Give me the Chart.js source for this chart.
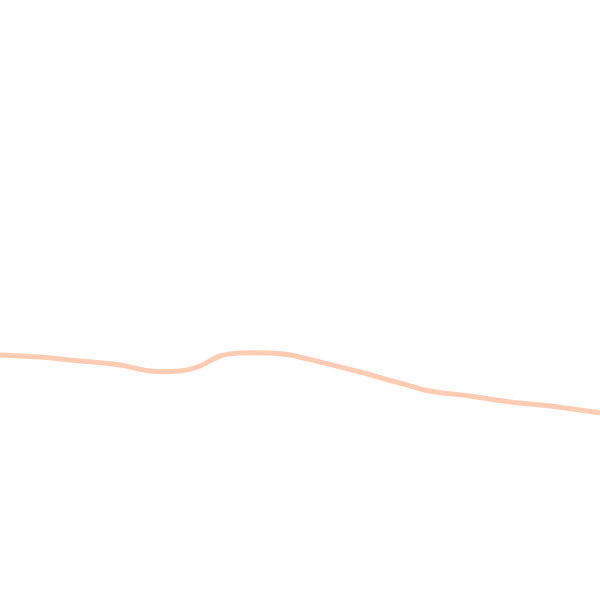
<!DOCTYPE html>
<html>
<head>
<meta charset="utf-8">
<script src="https://cdn.jsdelivr.net/npm/chart.js@4"></script>
<style>
  html, body { margin: 0; padding: 0; background: #fff; }
  #wrap { width: 600px; height: 600px; }
</style>
</head>
<body>
<div id="wrap"><canvas id="lineChart"></canvas></div>
<script>
// values (x along, level down from top)
const xs = [0, 40, 80, 120, 150, 180, 200, 220, 240, 270, 290, 320, 360, 400, 430, 470, 510, 550, 600];
const levels = [355, 357, 361, 365, 371, 371, 366, 356, 353, 353, 355, 362, 372, 383, 391, 396, 402, 406, 413];

const points = xs.map((x, i) => ({x, y: levels[i]}));

new Chart(document.getElementById('lineChart'), {
  type: 'line',
  data: {
    datasets: [{
      data: points,
      borderColor: 'rgba(255, 190, 160, 0.8)',
      borderWidth: 5,
      tension: .4,
      pointRadius: 0,
      fill: false,
    }]
  },
  options: {
    responsive: true,
    maintainAspectRatio: false,
    animation: false,
    layout: { padding: 0 },
    plugins: { legend: { display: false }, tooltip: { enabled: false } },
    scales: {
      x: { type: 'linear', min: 0, max: 600, display: false },
      y: { min: 0, max: 600, reverse: true, display: false }
    }
  }
});
</script>
</body>
</html>
